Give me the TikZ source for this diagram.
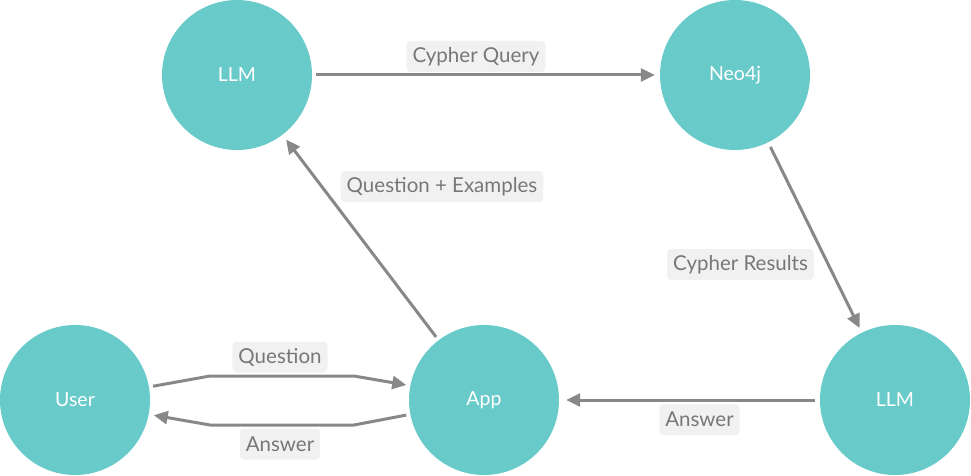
\documentclass[tikz,border=0pt]{standalone}
\usepackage{fontspec}
\setmainfont{Lato}
\usetikzlibrary{arrows.meta,calc}
\definecolor{teal1}{HTML}{69CBC9}
\definecolor{arrowgray}{HTML}{888888}
\definecolor{labelgray}{HTML}{777777}
\definecolor{labelbg}{HTML}{F1F1F1}
\tikzset{
  circnode/.style={circle, fill=teal1, minimum size=150pt, inner sep=0pt, text=white, font=\fontsize{19.5}{22}\selectfont},
  edgelabel/.style={fill=labelbg, rounded corners=4pt, text=labelgray, font=\fontsize{20.5}{24}\selectfont, inner xsep=6pt, inner ysep=0pt, minimum height=31pt},
  conn/.style={draw=arrowgray, line width=3pt, -{Triangle[length=14pt,width=13pt]}},
}
\begin{document}
\begin{tikzpicture}[x=1pt,y=-1pt]
\useasboundingbox (0,0) rectangle (971,476);
\node[circnode] (llm1) at (237,75) {LLM};
\node[circnode] (neo) at (735,75) {Neo4j};
\node[circnode] (llm2) at (895,400) {LLM};
\node[circnode] (app) at (484,400) {App};
\node[circnode] (user) at (75,400) {User};

\coordinate (q1) at (210,376);
\coordinate (q2) at (354,376);
\coordinate (a1) at (354,425);
\coordinate (a2) at (210,425);

\draw[conn, shorten <=4pt, shorten >=5pt] (llm1) -- (neo);
\draw[conn, shorten <=4pt, shorten >=6pt] (app) -- (llm1);
\draw[conn, shorten <=5pt, shorten >=5pt] (neo) -- (llm2);
\draw[conn, shorten <=5pt, shorten >=7pt] (llm2) -- (app);
\draw[conn, shorten <=4pt, shorten >=4pt] (user.10) -- (q1) -- (q2) -- (app.169);
\draw[conn, shorten <=4pt, shorten >=5pt] (app.191) -- (a1) -- (a2) -- (user.349);

\node[edgelabel] (lcq) at (476,56.5) {Cypher Query};
\node[edgelabel] (lqe) at (442,186.5) {Question + Examples};
\node[edgelabel] (lcr) at (740.5,264.5) {Cypher Results};
\node[edgelabel] (lar) at (699.5,419.5) {Answer};
\node[edgelabel] (lq) at (280,357) {Question};
\node[edgelabel] (lal) at (280,444) {Answer};
\end{tikzpicture}
\end{document}
